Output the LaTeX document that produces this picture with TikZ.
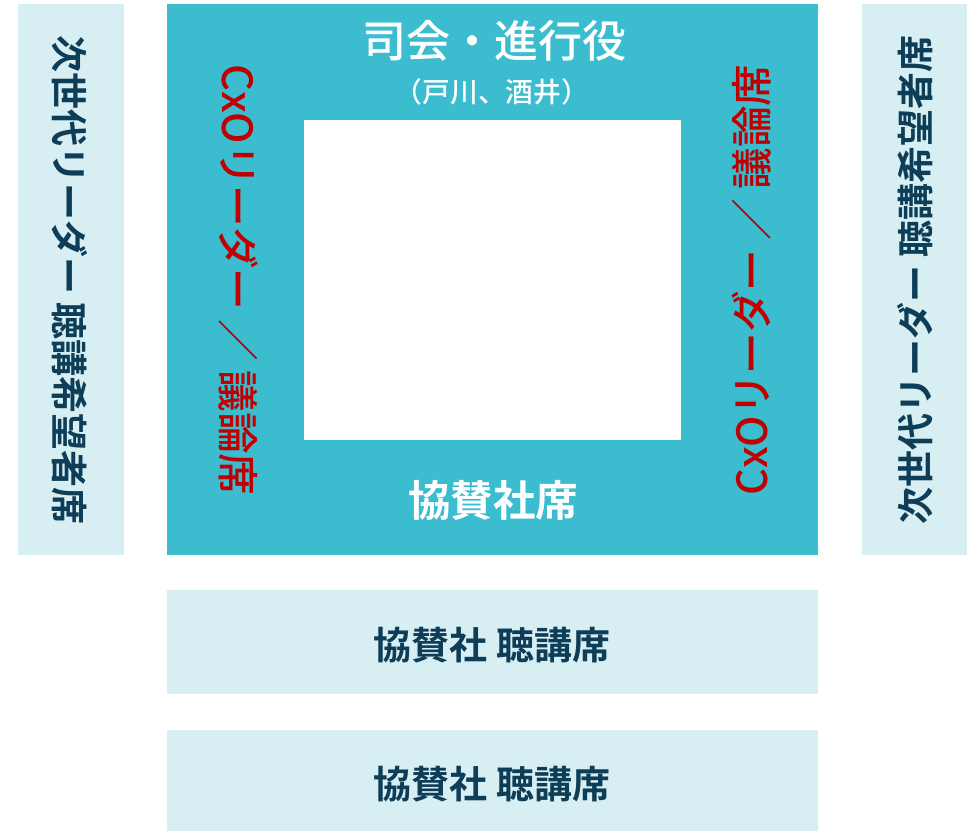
\documentclass[tikz,border=0pt]{standalone}
\usepackage{fontspec}
\newfontfamily\jp{Noto Sans CJK JP Medium}
\newfontfamily\jpb{Noto Sans CJK JP Bold}
\definecolor{teal1}{HTML}{3BBCCF}
\definecolor{light1}{HTML}{D7EFF3}
\definecolor{navy1}{HTML}{0E3D57}
\definecolor{red1}{HTML}{C00000}
\tikzset{
  panel/.style={fill=light1, draw=none},
  darktxt/.style={text=navy1, font=\jpb\fontsize{37}{40}\selectfont, inner sep=0pt},
  redtxt/.style={text=red1, font=\jp\fontsize{41.6}{44}\selectfont, inner sep=0pt},
  whitetxt/.style={text=white, inner sep=0pt}
}
\begin{document}
\begin{tikzpicture}[x=1pt,y=-1pt]
\useasboundingbox (0,0) rectangle (977,831);
% side panels
\fill[panel] (18,4) rectangle (124,555);
\fill[panel] (862,4) rectangle (967,555);
% main teal area
\fill[teal1] (167,4) rectangle (818,555);
\fill[white] (304,120) rectangle (681,440);
% bottom panels
\fill[panel] (167,590) rectangle (818,694);
\fill[panel] (167,730) rectangle (818,831);
% texts
\node[whitetxt, font=\jp\fontsize{44}{48}\selectfont] (mc) at (494,41) {司会・進行役};
\node[whitetxt, font=\jp\fontsize{27.8}{30}\selectfont] (mcn) at (492,92) {（戸川、酒井）};
\node[whitetxt, font=\jpb\fontsize{42.5}{46}\selectfont] (sp) at (493,500) {協賛社席};
\node[redtxt, rotate=-90] (cxol) at (238,280) {CxOリーダー ／ 議論席};
\node[redtxt, rotate=90] (cxor) at (752,280) {CxOリーダー ／ 議論席};
\node[darktxt, rotate=-90] (nl) at (70,280) {次世代リーダー 聴講希望者席};
\node[darktxt, rotate=90] (nr) at (915,280) {次世代リーダー 聴講希望者席};
\node[darktxt, font=\jpb\fontsize{38}{42}\selectfont] (b1) at (492,645) {協賛社 聴講席};
\node[darktxt, font=\jpb\fontsize{38}{42}\selectfont] (b2) at (492,784) {協賛社 聴講席};
\end{tikzpicture}
\end{document}
